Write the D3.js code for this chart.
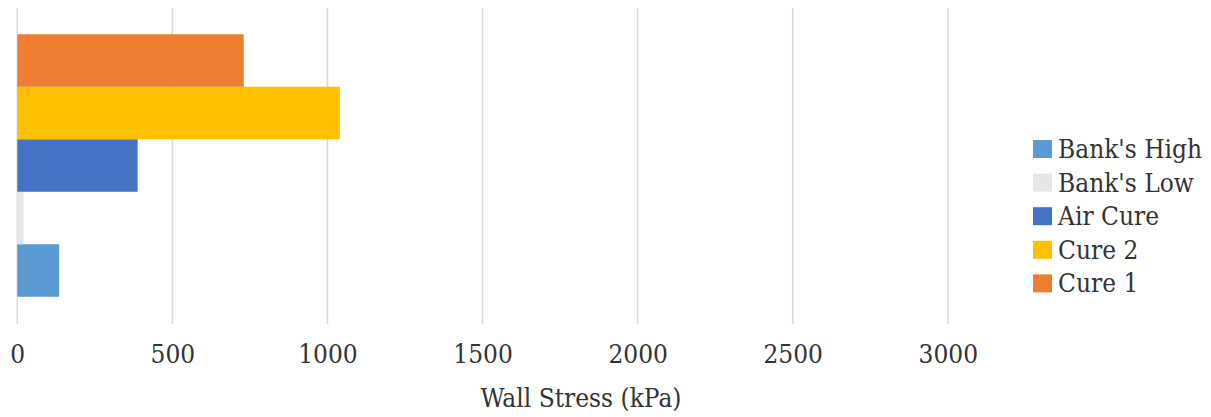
<!DOCTYPE html>
<html>
<head>
<meta charset="utf-8">
<script src="https://cdn.jsdelivr.net/npm/d3@7"></script>
<style>
  html, body { margin: 0; padding: 0; background: #fff; }
  svg { display: block; }
  svg text { font-stretch: condensed; }
</style>
</head>
<body>
<svg id="chart" width="1211" height="417"></svg>
<script>
// Wall stress by curing condition (kPa)
const category = ["Wall Stress"];
const seriesNames = ["Bank's High", "Bank's Low", "Air Cure", "Cure 2", "Cure 1"];
const seriesValues = [135, 20, 388, 1040, 730];
const seriesColors = ["#5B9BD5", "#E7E6E6", "#4472C4", "#FFC000", "#ED7D31"];
const tickValues = [0, 500, 1000, 1500, 2000, 2500, 3000];
const axisTitle = "Wall Stress (kPa)";

const serif = "'DejaVu Serif Condensed', 'DejaVu Serif'";
const fontSize = 26;
const svg = d3.select("#chart");
const plot = { left: 17.3, right: 947.8, top: 8, bottom: 323 };

const x = d3.scaleLinear().domain([0, 3000]).range([plot.left, plot.right]);

// one category; series stacked bottom-to-top in legend order
const yCat = d3.scaleBand().domain(category).range([plot.top, plot.bottom])
  .paddingInner(0.0909).paddingOuter(0.0909);
const ySeries = d3.scaleBand().domain(seriesNames.slice().reverse())
  .range([0, yCat.bandwidth()]);

// vertical gridlines
svg.append("g")
  .selectAll("line")
  .data(tickValues)
  .join("line")
  .attr("x1", d => x(d)).attr("x2", d => x(d))
  .attr("y1", plot.top).attr("y2", plot.bottom + 1)
  .attr("stroke", "#d9d9d9")
  .attr("stroke-width", 1.5);

// bars
const rows = seriesNames.map((name, i) => ({ name, value: seriesValues[i], color: seriesColors[i] }));
svg.append("g")
  .selectAll("rect")
  .data(rows)
  .join("rect")
  .attr("x", x(0))
  .attr("y", d => yCat(category[0]) + ySeries(d.name))
  .attr("width", d => x(d.value) - x(0))
  .attr("height", ySeries.bandwidth())
  .attr("fill", d => d.color);

// x axis labels
const axis = d3.axisBottom(x).tickValues(tickValues).tickSize(0).tickPadding(0)
  .tickFormat(d3.format("d"));
const gAxis = svg.append("g").attr("transform", `translate(0, 345)`).call(axis)
  .attr("font-family", serif).attr("font-size", fontSize);
gAxis.select(".domain").remove();
gAxis.selectAll("text")
  .attr("fill", "#333")
  .attr("dy", "0.71em");

// axis title
svg.append("text")
  .attr("x", 581)
  .attr("y", 407)
  .attr("text-anchor", "middle")
  .attr("font-family", serif)
  .attr("font-size", fontSize)
  .attr("fill", "#333")
  .text(axisTitle);

// legend
const legend = svg.append("g").attr("transform", "translate(1033, 140)");
const legendStep = 33.6;
const items = legend.selectAll("g")
  .data(rows)
  .join("g")
  .attr("transform", (d, i) => `translate(0, ${i * legendStep})`);
items.append("rect")
  .attr("width", 19).attr("height", 18)
  .attr("fill", d => d.color);
items.append("text")
  .attr("x", 25).attr("y", 18)
  .attr("font-family", serif)
  .attr("font-size", fontSize)
  .attr("fill", "#333")
  .text(d => d.name);
</script>
</body>
</html>
